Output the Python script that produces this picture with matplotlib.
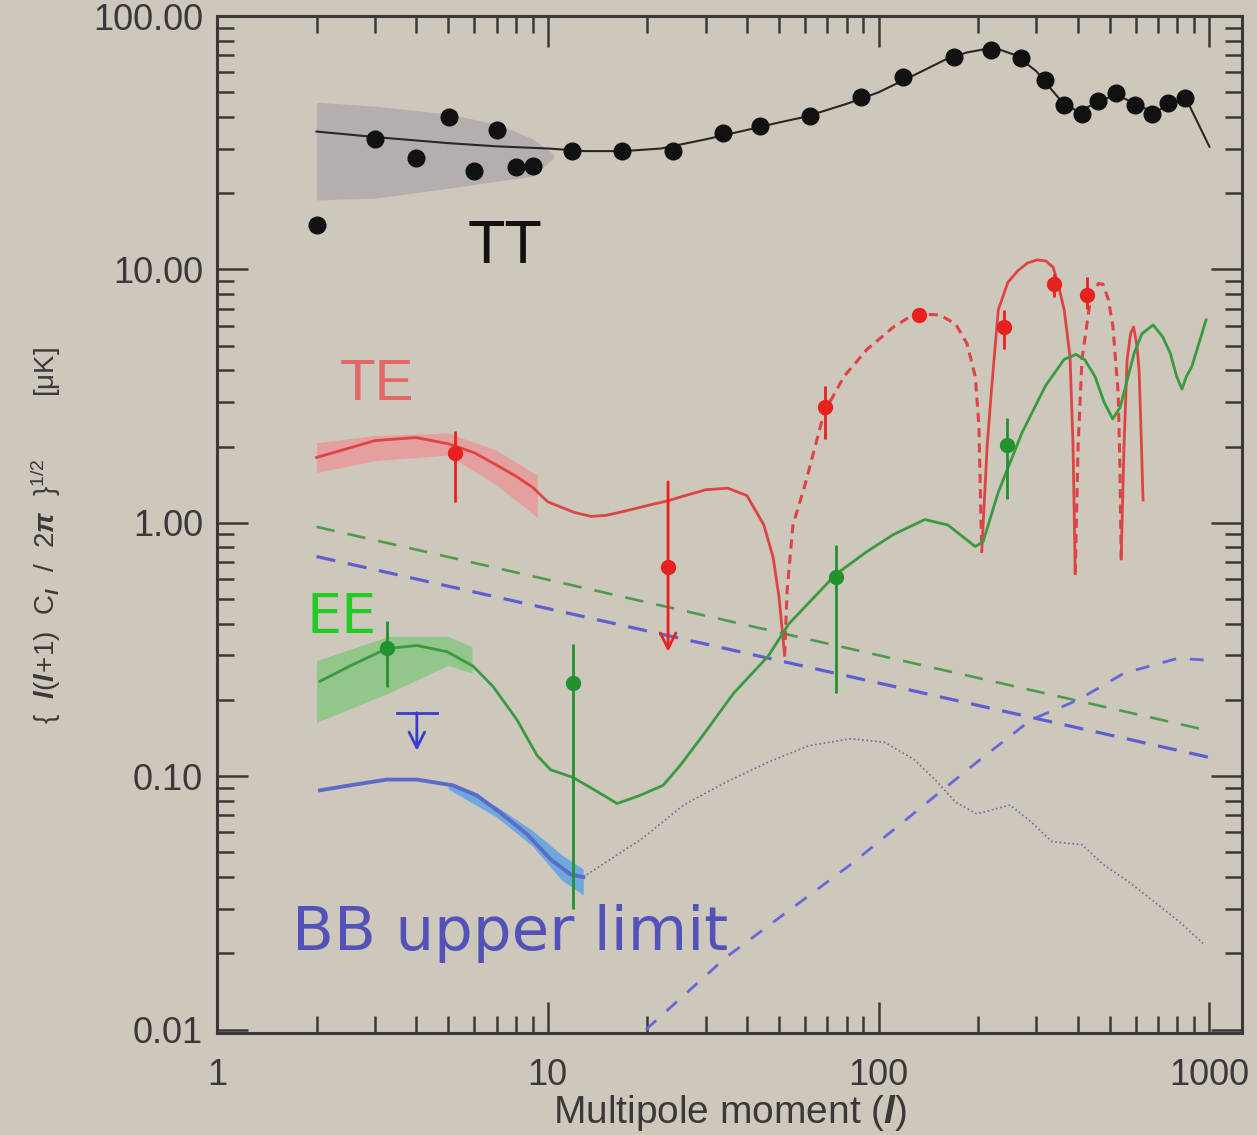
import numpy as np
import matplotlib
matplotlib.use('Agg')
import matplotlib.pyplot as plt
from matplotlib.ticker import FixedLocator, FixedFormatter, NullFormatter

# ---------------- data ----------------
# TT
tt_l = [2, 3, 4, 5.03, 6, 7.02, 8.01, 9, 11.8, 16.8, 23.9, 33.8, 43.8, 62, 88.5, 118.6,
        169, 219, 269, 318, 363, 412, 461, 522, 596, 670, 750, 844]
tt_val = [15.0, 32.8, 27.4, 40.0, 24.5, 35.6, 25.3, 25.5, 29.2, 29.2, 29.2, 34.6, 36.8, 40.3,
          47.9, 57.3, 69.2, 73.6, 68.5, 55.7, 44.5, 41.0, 46.1, 49.5, 44.5, 41.0, 45.3, 47.4]
tt_th_l = [2, 3, 5, 7, 10, 13, 17, 22, 30, 40, 50, 60, 80, 100, 130, 160, 185, 210, 230, 260,
           300, 330, 360, 400, 450, 520, 600, 680, 760, 850, 1000]
tt_th = [35.0, 33.3, 31.5, 30.6, 30.0, 29.3, 29.3, 30.0, 32.6, 35.5, 38.0, 40.0, 45.0, 50.0,
         59.0, 67.5, 71.8, 74.0, 74.0, 70.0, 60.5, 52.0, 45.5, 42.0, 45.0, 49.0, 45.0, 41.5,
         45.0, 47.2, 30.5]
tt_band_l = [2, 3, 5, 7, 9, 10.4]
tt_band_hi = [45.7, 44.1, 41.0, 37.5, 32.8, 28.5]
tt_band_lo = [18.8, 19.1, 20.9, 22.3, 23.3, 27.5]

# TE (|TE|; solid = positive, dashed = negative)
te_s1_l = [2, 3, 4, 5, 6, 7, 8, 9, 10, 12, 13.5, 15, 17, 20, 23, 26, 30, 35, 40, 45, 48, 50, 52]
te_s1 = [1.81, 2.11, 2.17, 2.05, 1.89, 1.69, 1.53, 1.38, 1.21, 1.10, 1.06, 1.07, 1.11, 1.17,
         1.22, 1.28, 1.35, 1.37, 1.28, 0.98, 0.73, 0.51, 0.30]
te_d1_l = [52, 52.9, 55.1, 59.9, 68.4, 78.6, 92.2, 111, 122, 134, 153, 171, 185, 196, 201, 205]
te_d1 = [0.30, 0.54, 0.98, 1.41, 2.72, 3.78, 4.83, 5.93, 6.4, 6.67, 6.61, 6.09, 5.09, 3.78,
         2.42, 0.77]
te_s2_l = [205, 213, 219, 230, 246, 264, 282, 301, 320, 337, 350, 364, 379, 387, 393]
te_s2 = [0.77, 2.02, 3.25, 6.92, 8.9, 9.9, 10.6, 10.9, 10.8, 10.2, 8.6, 6.92, 4.53, 2.02, 0.63]
te_d2_l = [393, 401, 412, 439, 462, 477, 495, 511, 530, 537, 541]
te_d2 = [0.63, 2.02, 4.42, 7.98, 8.8, 8.73, 7.6, 5.93, 3.25, 1.54, 0.72]
te_s3_l = [541, 552, 564, 578, 590, 604, 613, 622, 630]
te_s3 = [0.72, 2.02, 4.42, 5.6, 5.93, 5.0, 4.0, 2.2, 1.23]
te_band_l = [2, 3, 5, 7, 9.3]
te_band_hi = [2.07, 2.21, 2.26, 1.93, 1.54]
te_band_lo = [1.58, 1.76, 1.85, 1.41, 1.05]
te_pt_l = [5.24, 68.9, 132.5, 239, 339, 427]
te_pt = [1.88, 2.86, 6.6, 5.93, 8.73, 7.9]
te_pt_lo = [1.21, 2.15, 6.2, 4.83, 7.8, 6.98]
te_pt_hi = [2.31, 3.46, 7.0, 6.92, 9.6, 9.3]
te_ul_l = [23.1]
te_ul = [0.67]
te_ul_top = [1.45]
te_ul_tip = [0.31]

# EE
ee_l = [2.05, 2.52, 3.26, 4.02, 4.96, 5.94, 6.83, 8.07, 9.27, 10.2, 11.9, 13.7, 16.2, 19.0,
        22.3, 25.1, 29.9, 36.5, 46.3, 53.6, 74.3, 92.2, 111, 138, 162, 196, 207, 230, 271,
        319, 364, 395, 420, 451, 480, 510, 537, 592, 625, 676, 722, 762, 796, 826, 852, 885,
        977]
ee = [0.237, 0.272, 0.319, 0.328, 0.31, 0.272, 0.226, 0.167, 0.121, 0.106, 0.099, 0.089,
      0.078, 0.084, 0.092, 0.110, 0.149, 0.213, 0.297, 0.40, 0.626, 0.77, 0.90, 1.03, 0.98,
      0.806, 0.843, 1.32, 2.26, 3.46, 4.42, 4.62, 4.4, 3.78, 3.0, 2.57, 2.85, 4.66, 5.57,
      6.04, 5.42, 4.66, 3.78, 3.37, 3.78, 4.14, 6.32]
ee_band_l = [2, 3.3, 5, 5.9]
ee_band_hi = [0.286, 0.356, 0.356, 0.325]
ee_band_lo = [0.163, 0.213, 0.274, 0.255]
ee_pt_l = [3.26, 11.9, 74.3, 244]
ee_pt = [0.32, 0.233, 0.61, 2.02]
ee_pt_lo = [0.225, 0.030, 0.213, 1.24]
ee_pt_hi = [0.41, 0.333, 0.82, 2.59]

# BB
bb_l = [2.05, 2.52, 3.26, 4.02, 5.17, 6.1, 7.17, 8.66, 10.2, 11.7, 12.8]
bb = [0.088, 0.092, 0.097, 0.097, 0.092, 0.084, 0.072, 0.059, 0.047, 0.041, 0.040]
bb_band_l = [5, 7, 9, 11, 12.8]
bb_band_hi = [0.094, 0.076, 0.061, 0.049, 0.043]
bb_band_lo = [0.089, 0.069, 0.053, 0.039, 0.034]
bbd_l = [12.8, 19.3, 25.8, 34.6, 46.3, 61.6, 82.5, 104.5, 128, 148, 171, 198, 250, 289, 334,
         412, 477, 567, 676, 804, 957]
bbd = [0.040, 0.0568, 0.0771, 0.0948, 0.1135, 0.132, 0.1406, 0.136, 0.1164, 0.097, 0.079,
       0.071, 0.077, 0.066, 0.0552, 0.0537, 0.0449, 0.0385, 0.0322, 0.0269, 0.0219]
bbr_l = [19.8, 34.6, 82.5, 198, 289, 401, 552, 804, 983]
bbr = [0.0100, 0.0193, 0.0449, 0.1135, 0.167, 0.20, 0.255, 0.292, 0.287]
bbul_l = [4.02]
bbul_bar = [3.5, 4.63]
bbul_top = [0.178]
bbul_tip = [0.126]

# foregrounds
fg_l = [2, 1000]
fg_green = [0.964, 0.151]
fg_blue = [0.736, 0.1186]

# ticks
x_ticks = [1, 10, 100, 1000]
x_tick_labels = ['1', '10', '100', '1000']
y_ticks = [0.01, 0.1, 1, 10, 100]
y_tick_labels = ['0.01', '0.10', '1.00', '10.00', '100.00']

# ---------------- style ----------------
BG = '#cdc7bc'
AXC = '#3a3838'
TXT = '#3a3838'
plt.rcParams['font.family'] = ['Liberation Sans', 'DejaVu Sans']
plt.rcParams['mathtext.fontset'] = 'custom'
plt.rcParams['mathtext.rm'] = 'Liberation Sans'
plt.rcParams['mathtext.it'] = 'Liberation Sans:italic:bold'
plt.rcParams['mathtext.bf'] = 'Liberation Sans:bold'

fig = plt.figure(figsize=(12.57, 11.35), dpi=100, facecolor=BG)
ax = fig.add_axes([0.1726, 0.0899, 0.8155, 0.896])
ax.set_facecolor(BG)
ax.set_xscale('log')
ax.set_yscale('log')
ax.set_xlim(1, 1255)
ax.set_ylim(0.0097, 100)

# bands
ax.fill_between(tt_band_l, tt_band_lo, tt_band_hi, color='#b5aeaf', lw=0, zorder=1)
ax.fill_between(te_band_l, te_band_lo, te_band_hi, color='#e4a09e', lw=0, zorder=1)
ax.fill_between(ee_band_l, ee_band_lo, ee_band_hi, color='#93c68a', lw=0, zorder=1)
ax.fill_between(bb_band_l, bb_band_lo, bb_band_hi, color='#6ea9de', lw=0, zorder=1)

# foregrounds
ax.plot(fg_l, fg_green, color='#4f9a4e', lw=1.9, dashes=(7, 5), zorder=2)
ax.plot(fg_l, fg_blue, color='#5d5fd0', lw=2.3, dashes=(6, 4), zorder=2)
ax.plot(bbr_l, bbr, color='#6767d8', lw=2.0, dashes=(5, 5), zorder=2)
ax.plot(bbd_l, bbd, color='#6a6c9e', lw=1.2, ls=(0, (1, 1.6)), zorder=2)

# theory lines
ax.plot(tt_th_l, tt_th, color='#2a2626', lw=1.5, zorder=3)
red_line = '#de4444'
for ls_l, ls_v in [(te_s1_l, te_s1), (te_s2_l, te_s2), (te_s3_l, te_s3)]:
    ax.plot(ls_l, ls_v, color=red_line, lw=2.0, zorder=3)
for ld_l, ld_v in [(te_d1_l, te_d1), (te_d2_l, te_d2)]:
    ax.plot(ld_l, ld_v, color=red_line, lw=2.2, dashes=(3, 2), zorder=3)
ax.plot(ee_l, ee, color='#3a9a40', lw=2.0, zorder=3)
ax.plot(bb_l, bb, color='#5a6cc8', lw=2.8, zorder=3)

# data points
ax.plot(tt_l, tt_val, 'o', color='#111111', ms=12, zorder=5)

te_y = np.array(te_pt)
ax.errorbar(te_pt_l, te_pt, yerr=[te_y - np.array(te_pt_lo), np.array(te_pt_hi) - te_y],
            fmt='o', color='#e8201e', ms=10, elinewidth=2.0, capsize=0, zorder=5)
ax.plot(te_ul_l, te_ul, 'o', color='#e8201e', ms=10, zorder=5)
for xl, top, tip in zip(te_ul_l, te_ul_top, te_ul_tip):
    ax.annotate('', xy=(xl, tip), xytext=(xl, top),
                arrowprops=dict(arrowstyle='->', color='#e8201e', lw=2.0,
                                mutation_scale=28, shrinkA=0, shrinkB=0), zorder=5)

ee_y = np.array(ee_pt)
ax.errorbar(ee_pt_l, ee_pt, yerr=[ee_y - np.array(ee_pt_lo), np.array(ee_pt_hi) - ee_y],
            fmt='o', color='#22922e', ms=10, elinewidth=2.0, capsize=0, zorder=5)

# BB upper limit marker
ax.plot(bbul_bar, [bbul_top[0]] * 2, color='#3b3bd4', lw=2.0, zorder=5)
for xl, top, tip in zip(bbul_l, bbul_top, bbul_tip):
    ax.annotate('', xy=(xl, tip), xytext=(xl, top),
                arrowprops=dict(arrowstyle='->', color='#3b3bd4', lw=2.0,
                                mutation_scale=28, shrinkA=0, shrinkB=0), zorder=5)

# labels in plot
ax.text(0.281, 0.757, 'TT', transform=ax.transAxes, ha='center', va='baseline',
        fontsize=44, color='#111111')
ax.text(0.12, 0.6224, 'TE', transform=ax.transAxes, ha='left', va='baseline',
        fontsize=42, color='#e26868')
ax.text(0.0878, 0.393, 'EE', transform=ax.transAxes, ha='left', va='baseline',
        fontsize=40, color='#22cc22', family='DejaVu Sans')
ax.text(0.073, 0.0816, 'BB upper limit', transform=ax.transAxes, ha='left', va='baseline',
        fontsize=44, color='#5252b8', family='DejaVu Sans')

# ticks
ax.xaxis.set_major_locator(FixedLocator(x_ticks))
ax.xaxis.set_major_formatter(FixedFormatter(x_tick_labels))
ax.xaxis.set_minor_locator(FixedLocator([m * d for d in [1, 10, 100] for m in range(2, 10)]))
ax.xaxis.set_minor_formatter(NullFormatter())
ax.yaxis.set_major_locator(FixedLocator(y_ticks))
ax.yaxis.set_major_formatter(FixedFormatter(y_tick_labels))
ax.yaxis.set_minor_locator(FixedLocator([m * d for d in [0.01, 0.1, 1, 10] for m in range(2, 10)]))
ax.yaxis.set_minor_formatter(NullFormatter())
ax.tick_params(which='both', direction='in', top=True, right=True, color=AXC,
               labelcolor=TXT, labelsize=26)
ax.tick_params(which='major', length=22, width=1.8)
ax.tick_params(which='minor', length=12, width=1.8)
ax.tick_params(axis='x', which='major', pad=18)
ax.tick_params(axis='y', which='major', pad=10)
for s in ax.spines.values():
    s.set_color(AXC)
    s.set_linewidth(2.2)

ax.set_xlabel(r'Multipole moment ($\mathit{l}$)', fontsize=28, color=TXT, labelpad=0)
fig.text(0.036, 0.5286,
         r'$\{\ \ \mathit{l}(\mathit{l}\!+\!1)\ \ \mathrm{C}_{\mathit{l}}\ \ /\ \ 2\pi\ \ \}^{1/2}$'
         '        [μK]',
         rotation=90, ha='center', va='center', fontsize=20, color=TXT)

fig.savefig('out.png', dpi=100, facecolor=BG)
